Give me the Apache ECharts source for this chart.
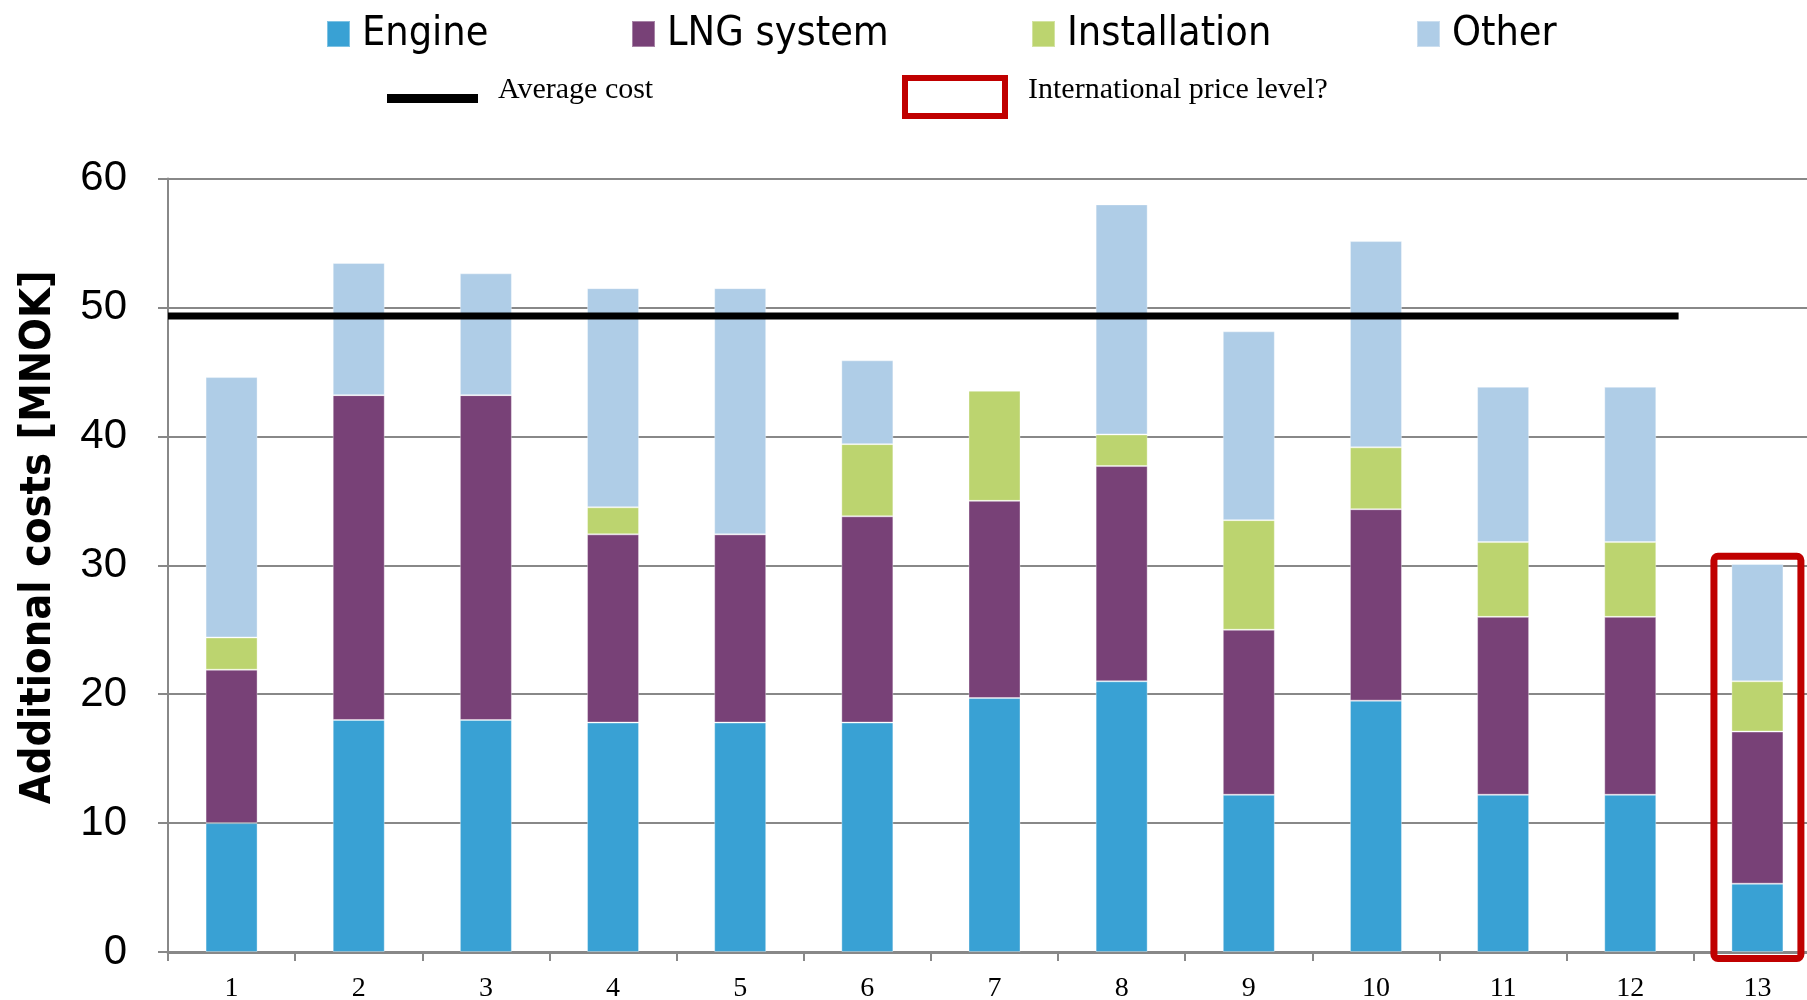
<!DOCTYPE html>
<html>
<head>
<meta charset="utf-8">
<script src="https://cdn.jsdelivr.net/npm/echarts@6/dist/echarts.min.js"></script>
<style>
html,body{margin:0;padding:0;background:#fff;}
#chart{width:1807px;height:1000px;}
</style>
</head>
<body>
<div id="chart"></div>
<script>
// ---- data ----
var categories = ['1','2','3','4','5','6','7','8','9','10','11','12','13'];
var engine       = [10.0, 18.0, 18.0, 17.8, 17.8, 17.8, 19.7, 21.0, 12.2, 19.5, 12.2, 12.2, 5.3];
var lngSystem    = [11.9, 25.2, 25.2, 14.6, 14.6, 16.0, 15.3, 16.7, 12.8, 14.85, 13.8, 13.8, 11.8];
var installation = [2.5, 0, 0, 2.1, 0, 5.6, 8.55, 2.45, 8.5, 4.8, 5.8, 5.8, 3.9];
var other        = [20.2, 10.25, 9.45, 17.0, 19.1, 6.5, 0, 17.85, 14.65, 16.0, 12.05, 12.05, 9.1];
var yTicks = [0, 10, 20, 30, 40, 50, 60];
var averageCost = 49.35;
var averageSpan = [-0.5, 11.38];           // category-index range of the average line
var priceBox = { category: '13', top: 30.7, bottom: -0.5 };

var colors = {
  engine: '#39A1D4',
  lng: '#784177',
  inst: '#BCD46F',
  other: '#AFCDE7',
  red: '#C00000'
};

var chart = echarts.init(document.getElementById('chart'), null, {renderer: 'canvas'});

var sansNarrow = '"Liberation Sans Narrow", "DejaVu Sans Condensed", "Liberation Sans", sans-serif';
var serif = '"Liberation Serif", "DejaVu Serif", serif';

// legend icons (tiny invisible specks fix the icon box so the mark sits below the text middle)
var avgIcon = 'path://M0,0h0.01v0.01h-0.01z M0,17h91v9h-91z M90.99,25.99h0.01v0.01h-0.01z';
var boxIcon = 'path://M0,0h0.01v0.01h-0.01z M0,14H106V58H0Z M6,20V52H100V20Z';

function squareLegend(name, left) {
  return {
    data: [name],
    left: left, top: 7, padding: 0,
    icon: 'rect', itemWidth: 23, itemHeight: 26,
    selectedMode: false,
    textStyle: {fontFamily: sansNarrow, fontSize: 41, color: '#000', lineHeight: 50, padding: [4, 0, 0, 7]}
  };
}

function barSeries(name, data, color) {
  return {
    name: name, type: 'bar', stack: 'total', data: data,
    barWidth: 52,
    itemStyle: {color: color, borderColor: 'rgba(255,255,255,0.35)', borderWidth: 1},
    emphasis: {disabled: true}
  };
}

var option = {
  animation: false,
  backgroundColor: '#fff',
  legend: [
    squareLegend('Engine', 326),
    squareLegend('LNG system', 631),
    squareLegend('Installation', 1031),
    squareLegend('Other', 1416),
    {
      data: [{name: 'Average cost', icon: avgIcon, itemStyle: {color: '#000'}}],
      left: 387, top: 75, padding: 0, itemWidth: 91, itemHeight: 26, selectedMode: false,
      textStyle: {fontFamily: serif, fontSize: 30, color: '#000', lineHeight: 30, padding: [0, 0, 0, 15]}
    },
    {
      data: [{name: 'International price level?', icon: boxIcon, itemStyle: {color: colors.red}}],
      left: 902, top: 61, padding: 0, itemWidth: 106, itemHeight: 58, selectedMode: false,
      textStyle: {fontFamily: serif, fontSize: 30, color: '#000', lineHeight: 30, padding: [0, 0, 0, 15]}
    }
  ],
  grid: {left: 168, right: -14, top: 178.6, bottom: 48, containLabel: false, outerBoundsMode: 'none'},
  xAxis: [
    {
      type: 'category', data: categories,
      axisLine: {show: true, lineStyle: {color: '#888888', width: 3}},
      axisTick: {show: true, alignWithLabel: false, length: 9, lineStyle: {color: '#888888', width: 2}},
      axisLabel: {fontFamily: serif, fontSize: 28, color: '#000', margin: 23, interval: 0},
      splitLine: {show: false}
    },
    {
      type: 'value', min: -0.5, max: 12.5, show: false
    }
  ],
  yAxis: {
    type: 'value', min: yTicks[0], max: yTicks[yTicks.length - 1], interval: 10,
    name: 'Additional costs [MNOK]',
    nameLocation: 'middle', nameGap: 108, nameRotate: 90,
    nameTextStyle: {fontFamily: sansNarrow, fontWeight: 'bold', fontSize: 43, color: '#000', padding: [0, 0, 0, 56]},
    axisLine: {show: true, onZero: false, lineStyle: {color: '#888888', width: 2}},
    axisTick: {show: true, length: 10, lineStyle: {color: '#888888', width: 2}},
    axisLabel: {fontFamily: '"Liberation Sans", Arial, sans-serif', fontSize: 42, color: '#000', margin: 41},
    splitLine: {show: true, lineStyle: {color: '#888888', width: 2}}
  },
  series: [
    barSeries('Engine', engine, colors.engine),
    barSeries('LNG system', lngSystem, colors.lng),
    barSeries('Installation', installation, colors.inst),
    barSeries('Other', other, colors.other),
    {
      name: 'Average cost', type: 'line', xAxisIndex: 1,
      data: [[averageSpan[0], averageCost], [averageSpan[1], averageCost]],
      symbol: 'none', lineStyle: {color: '#000', width: 7}, itemStyle: {color: '#000'},
      z: 5, emphasis: {disabled: true}
    },
    {
      name: 'International price level?', type: 'custom',
      xAxisIndex: 0, clip: false, z: 6,
      itemStyle: {color: colors.red},
      data: [[priceBox.category, priceBox.top, priceBox.bottom]],
      renderItem: function (params, api) {
        var topPt = api.coord([api.value(0), api.value(1)]);
        var botPt = api.coord([api.value(0), api.value(2)]);
        var band = api.size([1, 0])[0];
        var half = band * 0.342;
        return {
          type: 'rect',
          shape: {x: topPt[0] - half, y: topPt[1], width: half * 2, height: botPt[1] - topPt[1], r: 4},
          style: {fill: null, stroke: colors.red, lineWidth: 7}
        };
      }
    }
  ]
};

chart.setOption(option);
</script>
</body>
</html>
